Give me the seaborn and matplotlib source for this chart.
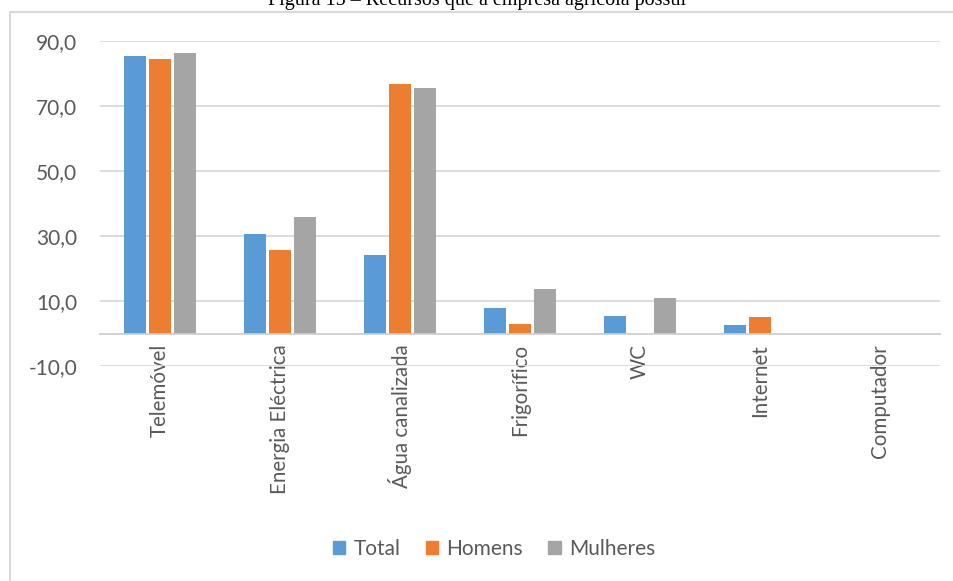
import matplotlib
matplotlib.use("Agg")
import matplotlib.pyplot as plt
import pandas as pd
import seaborn as sns
from matplotlib.patches import Rectangle

# recursos da empresa agrícola (%)
categorias = ["Telemóvel", "Energia Eléctrica", "Água canalizada", "Frigorífico",
              "WC", "Internet", "Computador"]
total = [85.5, 30.5, 24.3, 8.0, 5.5, 2.6, 0.0]
homens = [84.6, 25.8, 76.9, 2.8, 0.0, 5.1, 0.0]
mulheres = [86.2, 36.0, 75.4, 13.8, 11.0, 0.0, 0.0]
series = ["Total", "Homens", "Mulheres"]
cores = ["#5B9BD5", "#ED7D31", "#A5A5A5"]
yticks = [-10, 10, 30, 50, 70, 90]

df = pd.DataFrame({
    "Recurso": categorias * 3,
    "Grupo": [s for s in series for _ in categorias],
    "Valor": total + homens + mulheres,
})

sns.set_theme(style="white")
plt.rcParams["font.family"] = ["Lato", "DejaVu Sans"]
txt = "#595959"
grid = "#d9d9d9"

fig = plt.figure(figsize=(9.54, 5.81), dpi=100)
ax = fig.add_axes([100 / 954, 1 - 366 / 581, 840 / 954, 325 / 581])

sns.barplot(data=df, x="Recurso", y="Valor", hue="Grupo", palette=cores,
            width=0.63, gap=0.15, linewidth=0, saturation=1, ax=ax, legend=False)

ax.set_ylim(-10, 90)
ax.set_xlim(-0.5, 6.5)
ax.set_yticks(yticks)
ax.set_yticklabels([f"{v:.1f}".replace(".", ",") for v in yticks])
ax.yaxis.grid(True, color=grid, linewidth=1.3)
ax.set_axisbelow(True)
for s in ["top", "right", "left"]:
    ax.spines[s].set_visible(False)
ax.spines["bottom"].set_position(("data", 0))
ax.spines["bottom"].set_color("#cfcfcf")
ax.spines["bottom"].set_linewidth(1.3)
ax.tick_params(axis="y", length=0, pad=16.5, labelsize=15, labelcolor=txt)
ax.tick_params(axis="x", length=0, pad=7.5, labelsize=14.8, labelcolor=txt, rotation=90)
ax.set_xlabel("")
ax.set_ylabel("")

# legenda
handles = [Rectangle((0, 0), 1, 1, color=c) for c in cores]
fig.legend(handles, series, loc="center", bbox_to_anchor=(494 / 954, 1 - 549 / 581),
           ncol=3, frameon=False, handlelength=0.6, handleheight=0.6,
           handletextpad=0.4, columnspacing=1.2, fontsize=15, labelcolor=txt)

# moldura do gráfico
fig.patches.append(Rectangle((10 / 954, -0.05), 1.0, 1 - 12 / 581 + 0.05,
                             transform=fig.transFigure, fill=False,
                             edgecolor=grid, linewidth=1.5))

fig.text(477 / 954, 1 - 5 / 581, "Figura 15 – Recursos que a empresa agrícola possui",
         ha="center", va="baseline", fontsize=14.5, family="Liberation Serif", color="black")

fig.savefig("out.png", dpi=100)
